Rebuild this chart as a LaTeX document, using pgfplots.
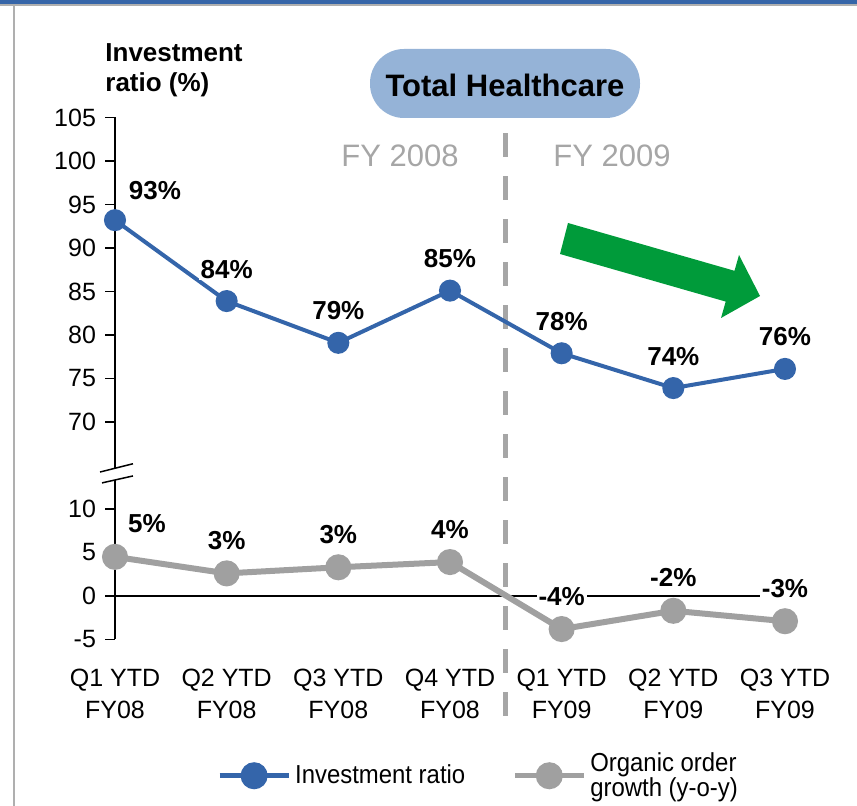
\documentclass[border=0pt]{standalone}
\usepackage{pgfplots}
\pgfplotsset{compat=1.18}
\usepackage{pgfplotstable}
\usepackage{fontspec}
\setmainfont{Liberation Sans}
\newfontfamily\narrowfont[FakeStretch=0.92]{Liberation Sans}

\definecolor{invblue}{RGB}{52,101,170}
\definecolor{orggray}{RGB}{160,160,160}
\definecolor{dashgray}{RGB}{166,166,166}
\definecolor{pillblue}{RGB}{149,179,215}
\definecolor{arrowgreen}{RGB}{0,155,58}
\definecolor{framegray}{RGB}{175,175,175}
\definecolor{barblue}{RGB}{54,101,168}

\pgfplotstableread{
x y lab
0 93.2 93
1 83.9 84
2 79.1 79
3 85.1 85
4 77.9 78
5 73.9 74
6 76.1 76
}\invtable

\pgfplotstableread{
x y lab
0 4.5 5
1 2.6 3
2 3.3 3
3 3.9 4
4 -3.8 -4
5 -1.7 -2
6 -2.9 -3
}\orgtable

\pgfplotsset{
  vlabel/.style={forget plot, only marks, mark=none,
    point meta=explicit symbolic,
    nodes near coords={\pgfplotspointmeta\%},
    nodes near coords style={anchor=center, font=\bfseries\fontsize{13}{15}\selectfont,
      text=black, fill=white, inner sep=1pt, #1}},
}

\begin{document}
\begin{tikzpicture}
\useasboundingbox (0,0) rectangle (428.5pt,-403pt);
% frame
\fill[barblue] (0,0) rectangle (428.5pt,-2pt);
\fill[framegray] (0,-2pt) rectangle (428.5pt,-3pt);
\fill[framegray] (6.5pt,-3pt) rectangle (7.5pt,-403pt);
% green arrow
\fill[arrowgreen] (284pt,-111.5pt) -- (367.25pt,-135.4pt) -- (369.5pt,-127.5pt) -- (380pt,-148pt) -- (360.5pt,-159pt) -- (362.85pt,-150.8pt) -- (280pt,-127pt) -- cycle;
% title pill
\fill[pillblue, rounded corners=17pt] (185pt,-24.5pt) rectangle (320pt,-59pt);
\node[anchor=base, inner sep=0pt, font=\bfseries\fontsize{15.5}{18}\selectfont] at (252.5pt,-48.5pt) {Total Healthcare};
% y axis title
\node[anchor=base west, inner sep=0pt, font=\bfseries\fontsize{13}{16}\selectfont] at (52.5pt,-30.8pt) {Investment};
\node[anchor=base west, inner sep=0pt, font=\bfseries\fontsize{13}{16}\selectfont] at (52.5pt,-45.8pt) {ratio (\%)};
% FY labels
\node[anchor=base, inner sep=0pt, text=dashgray, font=\fontsize{15.5}{18}\selectfont] at (200pt,-83.5pt) {FY 2008};
\node[anchor=base, inner sep=0pt, text=dashgray, font=\fontsize{15.5}{18}\selectfont] at (306pt,-83.5pt) {FY 2009};

\begin{axis}[
  at={(57.5pt,-319.75pt)}, anchor=south west,
  scale only axis, width=335pt, height=261pt,
  xmin=0, xmax=6, ymin=-5, ymax=55,
  clip=false,
  axis lines*=left, axis line style={draw=none},
  tick align=outside, major tick length=5pt,
  ytick={-5,0,5,10,20,25,30,35,40,45,50,55},
  yticklabels={-5,0,5,10,70,75,80,85,90,95,100,105},
  ytick style={black, line width=0.75pt},
  yticklabel style={xshift=-1pt},
  xtick={0,1,2,3,4,5,6},
  xticklabels={{Q1 YTD\\FY08},{Q2 YTD\\FY08},{Q3 YTD\\FY08},{Q4 YTD\\FY08},{Q1 YTD\\FY09},{Q2 YTD\\FY09},{Q3 YTD\\FY09}},
  xtick style={draw=none},
  xticklabel style={align=center, yshift=-6pt},
  tick label style={font=\fontsize{12.5}{16}\selectfont},
  /pgf/number format/assume math mode=true,
  legend style={at={(0.544,-0.261)}, anchor=center, draw=none, fill=none,
    legend columns=2, font=\narrowfont\fontsize{13}{12.5}\selectfont,
    cells={align=left, anchor=west},
    /tikz/every even column/.append style={column sep=21.5pt}},
  legend image code/.code={\draw[mark repeat=2,mark phase=2,#1,line width=2.5pt,mark size=5.5pt] plot coordinates {(0pt,0pt) (17.25pt,0pt) (34.5pt,0pt)};},
]
% decorations
\draw[dashgray, line width=2.5pt, dash pattern=on 12pt off 9.5pt] (axis cs:3.5,53.2) -- (axis cs:3.5,-14.8);
\draw[black, line width=0.75pt] (axis cs:0,0) -- (axis cs:6,0);
\draw[black, line width=0.75pt] (axis cs:0,55) -- (axis cs:0,14.7);
\draw[black, line width=0.75pt] (axis cs:0,13.3) -- (axis cs:0,-5);
\draw[black, line width=0.75pt] (axis cs:-0.134,14.25) -- (axis cs:0.161,15.2);
\draw[black, line width=0.75pt] (axis cs:-0.116,13.0) -- (axis cs:0.161,13.8);

\addplot[invblue, line width=2pt, mark=*, mark size=4.5pt, mark options={solid, fill=invblue}]
  table[x=x, y expr=\thisrow{y}-50] {\invtable};
\addlegendentry{Investment ratio}

\addplot[orggray, line width=3pt, mark=*, mark size=5pt, mark options={solid, fill=orggray}]
  table[x=x, y=y] {\orgtable};
\addlegendentry{Organic order\\growth (y-o-y)}

% value labels
\addplot[vlabel={yshift=16pt}, skip coords between index={0}{1}]
  table[x=x, y expr=\thisrow{y}-50, meta=lab] {\invtable};
\addplot[vlabel={xshift=20pt, yshift=15pt}, skip coords between index={1}{7}]
  table[x=x, y expr=\thisrow{y}-50, meta=lab] {\invtable};
\addplot[vlabel={yshift=16.5pt}, skip coords between index={0}{1}]
  table[x=x, y=y, meta=lab] {\orgtable};
\addplot[vlabel={xshift=16pt, yshift=16.5pt}, skip coords between index={1}{7}]
  table[x=x, y=y, meta=lab] {\orgtable};
\end{axis}
\end{tikzpicture}
\end{document}
